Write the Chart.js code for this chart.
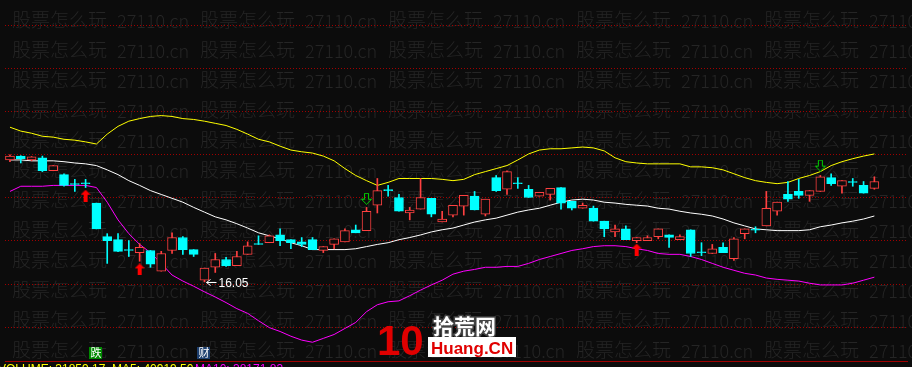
<!DOCTYPE html>
<html>
<head>
<meta charset="utf-8">
<script src="https://cdn.jsdelivr.net/npm/chart.js@4.4.1/dist/chart.umd.min.js"></script>
<style>
html,body{margin:0;padding:0;background:#0c0c0c;}
</style>
</head>
<body>
<canvas id="myChart" width="912" height="367"></canvas>
<script>
// daily candles, oldest first
var open = [
18.88,18.97,18.88,18.93,18.63,18.54,18.33,18.35,17.88,17.10,
17.03,16.80,16.73,16.78,16.30,16.78,17.08,16.80,16.09,16.39,
16.57,16.43,16.69,16.94,16.96,17.14,17.03,16.98,17.03,16.78,
16.92,16.98,17.26,17.24,17.83,18.19,18.01,17.65,17.74,17.99,
17.44,17.60,17.81,18.04,17.62,18.47,18.20,18.35,18.20,18.04,
18.08,18.24,17.92,17.76,17.76,17.46,17.21,17.28,17.01,17.01,
17.10,17.14,17.03,17.26,16.75,16.71,16.85,16.59,17.17,17.27,
17.35,17.69,18.08,18.15,18.06,18.15,18.47,18.27,18.38,18.29,
18.22];
var close = [
18.97,18.91,18.95,18.63,18.75,18.29,18.31,18.33,17.28,17.01,
16.76,16.78,16.85,16.46,16.71,17.08,16.80,16.69,16.37,16.57,
16.43,16.64,16.89,16.92,17.12,17.01,16.96,16.92,16.80,16.87,
17.05,17.24,17.19,17.69,18.17,18.17,17.69,17.72,18.01,17.62,
17.51,17.83,18.06,17.72,17.97,18.17,18.61,18.33,18.01,18.13,
18.22,17.88,17.76,17.83,17.46,17.28,17.28,17.03,17.08,17.08,
17.28,17.08,17.10,16.71,16.73,16.82,16.73,17.05,17.28,17.25,
17.76,17.90,17.97,18.06,18.17,18.49,18.33,18.40,18.36,18.11,
18.38];
var high = [
19.00,18.98,18.96,18.97,18.75,18.56,18.43,18.43,17.88,17.17,
17.17,17.01,16.94,16.78,16.76,17.19,17.10,16.80,16.37,16.71,
16.62,16.76,16.98,17.12,17.14,17.28,17.03,17.08,17.08,16.87,
17.05,17.28,17.37,17.78,18.45,18.29,18.08,17.78,18.45,17.99,
17.69,17.83,18.06,18.15,17.97,18.52,18.63,18.47,18.29,18.13,
18.22,18.24,17.92,17.88,17.81,17.46,17.37,17.35,17.08,17.12,
17.28,17.14,17.14,17.26,16.96,16.92,16.96,17.08,17.28,17.33,
18.15,17.90,18.38,18.43,18.17,18.52,18.56,18.40,18.45,18.38,
18.49];
var low = [
18.84,18.81,18.86,18.61,18.63,18.27,18.15,18.24,17.28,16.48,
16.75,16.64,16.53,16.39,16.30,16.71,16.69,16.64,16.05,16.27,
16.41,16.43,16.69,16.92,16.96,16.89,16.82,16.87,16.80,16.73,
16.82,16.98,17.19,17.24,17.65,18.04,17.69,17.49,17.74,17.56,
17.44,17.56,17.60,17.72,17.58,18.15,18.08,18.22,18.01,18.04,
17.95,17.74,17.72,17.76,17.46,17.10,17.10,17.03,16.96,17.01,
17.05,16.85,17.03,16.64,16.66,16.71,16.73,16.55,17.05,17.19,
17.35,17.60,17.92,17.99,17.92,18.15,18.29,18.11,18.27,18.11,
18.20];

// bollinger bands
var bollUpper = [
19.64,19.55,19.50,19.43,19.41,19.36,19.34,19.30,19.25,19.48,
19.66,19.78,19.84,19.89,19.91,19.89,19.84,19.82,19.78,19.73,
19.68,19.59,19.48,19.36,19.30,19.20,19.11,19.07,19.04,18.97,
18.86,18.68,18.52,18.40,18.29,18.36,18.45,18.45,18.45,18.45,
18.43,18.40,18.43,18.54,18.61,18.68,18.75,18.88,19.02,19.11,
19.14,19.14,19.16,19.18,19.16,19.09,18.93,18.84,18.81,18.79,
18.79,18.79,18.79,18.72,18.72,18.70,18.65,18.56,18.47,18.40,
18.36,18.33,18.36,18.45,18.52,18.61,18.75,18.84,18.91,18.97,
19.02];
var bollMid = [
18.88,18.88,18.86,18.86,18.86,18.84,18.81,18.79,18.75,18.65,
18.54,18.40,18.29,18.17,18.08,17.99,17.90,17.78,17.67,17.56,
17.49,17.40,17.30,17.19,17.12,17.05,16.96,16.89,16.80,16.80,
16.80,16.80,16.82,16.87,16.92,16.96,17.03,17.08,17.14,17.21,
17.26,17.30,17.37,17.44,17.49,17.53,17.60,17.67,17.72,17.76,
17.83,17.90,17.95,17.97,17.95,17.90,17.88,17.85,17.83,17.81,
17.76,17.74,17.69,17.65,17.62,17.58,17.51,17.42,17.35,17.28,
17.26,17.24,17.24,17.24,17.26,17.33,17.37,17.42,17.46,17.51,
17.58];
var bollLower = [
18.15,18.27,18.27,18.27,18.29,18.29,18.29,18.29,18.24,17.90,
17.49,17.17,16.92,16.73,16.48,16.21,16.07,15.95,15.82,15.70,
15.57,15.43,15.32,15.15,14.99,14.90,14.79,14.70,14.65,14.74,
14.83,14.97,15.11,15.36,15.52,15.59,15.61,15.73,15.86,15.98,
16.09,16.23,16.30,16.34,16.39,16.39,16.41,16.41,16.48,16.57,
16.64,16.71,16.78,16.82,16.87,16.89,16.89,16.87,16.82,16.78,
16.71,16.69,16.69,16.64,16.57,16.48,16.39,16.32,16.25,16.21,
16.14,16.11,16.09,16.07,16.02,15.98,15.98,15.98,16.02,16.09,
16.16];

// signal arrows (candle index, price where arrow sits)
var buyIdx = [7, 12, 58];
var buyPrice = [18.05, 16.34, 16.80];
var sellIdx = [33, 75];
var sellPrice = [17.98, 18.75];

// bottom event tags
var tagIdx = [8, 18];
var tagText = ['跌', '财'];

// volume line under the chart
var volText = 'VOLUME: 31859.17  MA5: 40919.50';
var volMa10Text = 'MA10: 38171.83';

var UP = '#ff4040';
var DOWN = '#00ffff';

function pts(arr) {
    var out = [];
    for (i = 0; i < arr.length; i++) out.push({x: i, y: arr[i]});
    return out;
}

var bodies = [], wicks = [], bodyFill = [], bodyLine = [];
for (i = 0; i < open.length; i++) {
    var up = close[i] >= open[i];
    bodies.push({x: i, y: [open[i], close[i]]});
    wicks.push({x: i, y: [low[i], high[i]]});
    bodyFill.push(up ? '#0c0c0c' : DOWN);
    bodyLine.push(up ? UP : DOWN);
}

var buys = [], sells = [];
for (i = 0; i < buyIdx.length; i++) buys.push({x: buyIdx[i], y: buyPrice[i]});
for (i = 0; i < sellIdx.length; i++) sells.push({x: sellIdx[i], y: sellPrice[i]});

function arrowUp() {
    var c = document.createElement('canvas'); c.width = 10; c.height = 12;
    var g = c.getContext('2d');
    g.fillStyle = '#ff0000';
    g.beginPath(); g.moveTo(5, 0); g.lineTo(10, 5); g.lineTo(0, 5); g.closePath(); g.fill();
    g.fillRect(3, 5, 4, 7);
    return c;
}
function arrowDown() {
    var c = document.createElement('canvas'); c.width = 11; c.height = 12;
    var g = c.getContext('2d');
    g.strokeStyle = '#00d000'; g.lineWidth = 1;
    g.beginPath();
    g.moveTo(3.5, 0.5); g.lineTo(7.5, 0.5); g.lineTo(7.5, 6.5); g.lineTo(10.5, 6.5);
    g.lineTo(5.5, 11.5); g.lineTo(0.5, 6.5); g.lineTo(3.5, 6.5); g.closePath();
    g.stroke();
    return c;
}

const backdrop = {
    id: 'backdrop',
    beforeDraw(chart) {
        const ctx = chart.ctx;
        ctx.save();
        ctx.fillStyle = '#0c0c0c';
        ctx.fillRect(0, 0, chart.width, chart.height);
        ctx.fillStyle = '#252525';
        ctx.textBaseline = 'middle';
        for (var r = 0; r < 12; r++) {
            for (var c = 0; c < 5; c++) {
                var x = 12 + c * 188, y = 20 + r * 30;
                ctx.font = '300 19px "Noto Sans CJK SC"';
                ctx.fillText('股票怎么玩', x, y);
                ctx.font = '300 18px "Noto Sans CJK SC"';
                ctx.fillText('27110.cn', x + 105, y + 1);
            }
        }
        ctx.restore();
    }
};

const extras = {
    id: 'extras',
    afterDraw(chart) {
        const ctx = chart.ctx;
        const xs = chart.scales.x, ys = chart.scales.y;
        ctx.save();

        // lowest low marker
        var k = 0;
        for (i = 1; i < low.length; i++) if (low[i] < low[k]) k = i;
        var px = Math.round(xs.getPixelForValue(k)) + 2.5;
        var py = Math.round(ys.getPixelForValue(low[k])) + 0.5;
        ctx.strokeStyle = '#ffffff'; ctx.lineWidth = 1;
        ctx.beginPath();
        ctx.moveTo(px, py); ctx.lineTo(px + 10, py);
        ctx.moveTo(px, py); ctx.lineTo(px + 4, py - 3);
        ctx.moveTo(px, py); ctx.lineTo(px + 4, py + 3);
        ctx.stroke();
        ctx.fillStyle = '#ffffff';
        ctx.font = '12px "Liberation Sans"';
        ctx.textBaseline = 'middle';
        ctx.fillText(low[k].toFixed(2), px + 12, py + 1);

        // event tags
        ctx.font = '11px "Noto Sans CJK SC"';
        ctx.textAlign = 'center';
        for (i = 0; i < tagIdx.length; i++) {
            var tx = Math.round(xs.getPixelForValue(tagIdx[i]));
            ctx.fillStyle = i == 0 ? '#008a00' : '#1d3f6e';
            ctx.fillRect(tx - 7, 347, 13, 12);
            ctx.fillStyle = '#ffffff';
            ctx.fillText(tagText[i], tx, 353);
        }

        // volume text, mostly cut off by the bottom edge
        ctx.textAlign = 'left';
        ctx.textBaseline = 'alphabetic';
        ctx.font = '12px "Liberation Sans"';
        ctx.fillStyle = '#ffff00';
        ctx.fillText(volText, -2, 373);
        ctx.fillStyle = '#ff00ff';
        ctx.fillText(volMa10Text, 195, 373);

        // site logo
        ctx.fillStyle = '#e00000';
        ctx.font = 'bold 42px "Liberation Sans"';
        ctx.fillText('10', 377, 355);
        ctx.font = 'bold 21px "Noto Sans CJK SC"';
        ctx.lineWidth = 3; ctx.strokeStyle = '#444444';
        ctx.strokeText('拾荒网', 433, 334);
        ctx.fillStyle = '#ffffff';
        ctx.fillText('拾荒网', 433, 334);
        ctx.fillRect(428, 337, 88, 20);
        ctx.fillStyle = '#e00000';
        ctx.font = 'bold 17px "Liberation Sans"';
        ctx.fillText('Huang.CN', 431, 354);
        ctx.restore();
    }
};

const config = {
    type: 'bar',
    data: {
        datasets: [
            {type: 'line', data: pts(bollUpper), borderColor: '#ffff00', borderWidth: 1, pointRadius: 0, order: 3},
            {type: 'line', data: pts(bollMid), borderColor: '#ffffff', borderWidth: 1, pointRadius: 0, order: 3},
            {type: 'line', data: pts(bollLower), borderColor: '#ff00ff', borderWidth: 1, pointRadius: 0, order: 3},
            {data: wicks, backgroundColor: bodyLine, barThickness: 1, grouped: false, order: 2},
            {data: bodies, backgroundColor: bodyFill, borderColor: bodyLine, borderWidth: 1,
             borderSkipped: false, barThickness: 9, grouped: false, order: 1},
            {type: 'line', data: buys, showLine: false, pointStyle: arrowUp(), order: 0},
            {type: 'line', data: sells, showLine: false, pointStyle: arrowDown(), order: 0}
        ]
    },
    options: {
        responsive: false,
        devicePixelRatio: 1,
        animation: false,
        layout: {padding: {left: 0, right: 0, top: 0, bottom: 6}},
        plugins: {legend: {display: false}, tooltip: {enabled: false}},
        scales: {
            x: {
                type: 'linear', min: -0.46, max: 83.02, offset: false,
                ticks: {display: false},
                grid: {display: false, drawTicks: false},
                border: {display: true, color: '#a00000', width: 1}
            },
            y: {
                min: 14.215, max: 22.476,
                ticks: {display: false, stepSize: 1, includeBounds: false},
                grid: {color: '#a00000', lineWidth: 1, drawTicks: false},
                border: {display: false, dash: [1, 2]}
            }
        }
    },
    plugins: [backdrop, extras]
};

const ctx = document.getElementById('myChart').getContext('2d');
let myChart = new Chart(ctx, config);
</script>
</body>
</html>
